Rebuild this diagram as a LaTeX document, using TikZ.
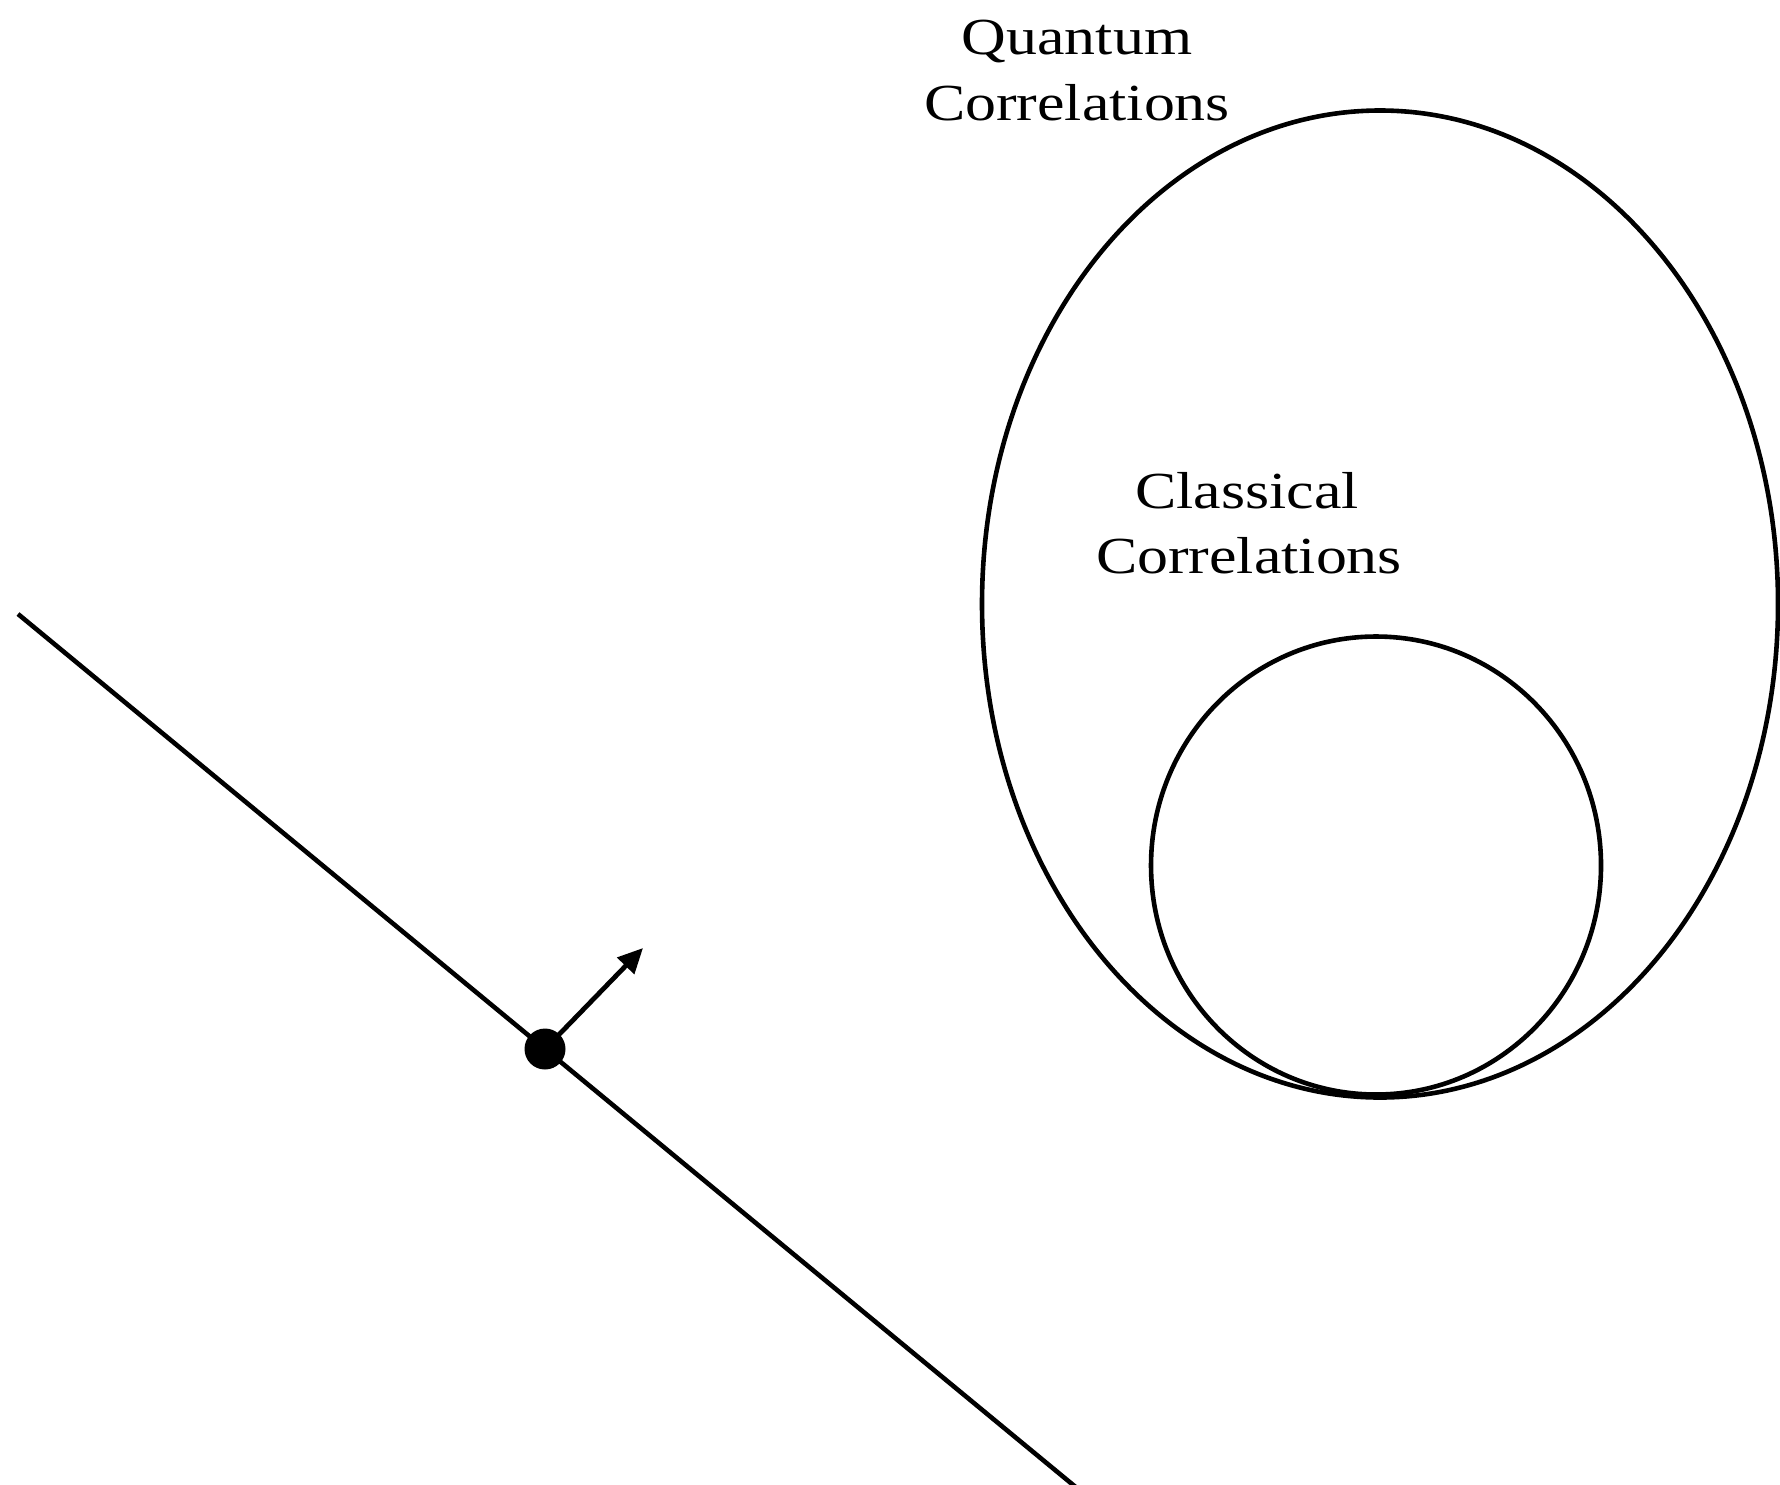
\documentclass[tikz,border=0pt]{standalone}
\usepackage{fontspec}
\setmainfont{Liberation Serif}[FakeStretch=1.19]
\usetikzlibrary{arrows.meta,shapes.geometric}
\tikzset{
  setline/.style={draw, line width=2.3pt, ellipse, inner sep=0pt, outer sep=0pt},
  lbl/.style={anchor=base, inner sep=0pt, font=\fontsize{26pt}{31pt}\selectfont},
  dotnode/.style={circle, fill=black, inner sep=0pt, minimum size=20.5pt},
  thickline/.style={line width=2.3pt},
  arr/.style={line width=2.4pt, -{Triangle[length=12.5pt,width=11.5pt]}}
}
\begin{document}
\begin{tikzpicture}[x=0.5pt,y=-0.5pt]
\useasboundingbox (0,0) rectangle (1780,1484);
% sets
\node[setline, minimum width=398pt, minimum height=493.5pt] (quantum) at (1380,604) {};
\node[setline, minimum width=225pt, minimum height=229pt] (classical) at (1376,865.5) {};
% labels
\node[lbl] (q1) at (1077,54) {Quantum};
\node[lbl] (q2) at (1077,120) {Correlations};
\node[lbl] (c1) at (1247,508) {Classical};
\node[lbl] (c2) at (1249,573) {Correlations};
% hyperplane and point
\coordinate (lstart) at (18,614);
\coordinate (lend) at (1080,1490.6);
\draw[thickline] (lstart) -- (lend);
\node[dotnode] (pt) at (545,1049) {};
\coordinate (tip) at (643,948);
\draw[arr] (pt.center) -- (tip);
\end{tikzpicture}
\end{document}
